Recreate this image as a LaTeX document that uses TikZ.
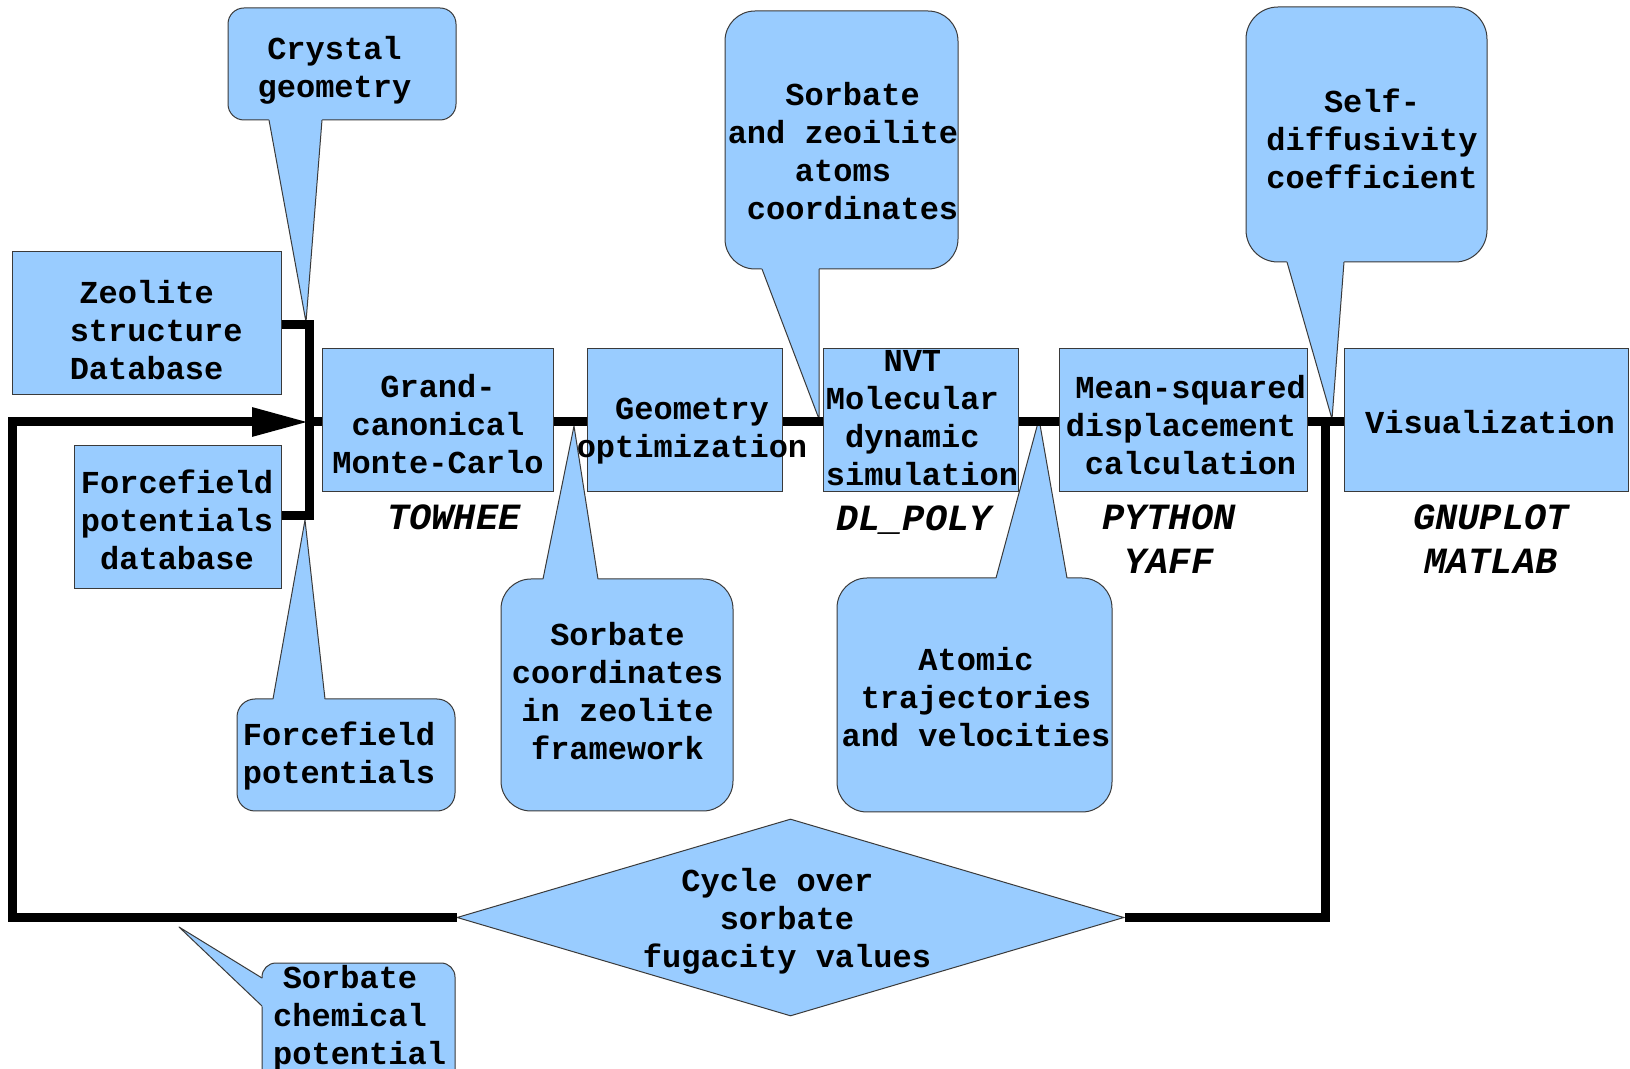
\documentclass[tikz,border=0pt]{standalone}
\usepackage{fontspec}
\setmonofont{Liberation Mono}
\usetikzlibrary{shapes.geometric,arrows.meta,calc}
\definecolor{cblue}{HTML}{99CCFF}
\definecolor{bord}{HTML}{3A3A3A}
\tikzset{
  box/.style={rectangle, draw=bord, fill=cblue, line width=0.5pt, inner sep=0pt},
  txt/.style={font=\ttfamily\bfseries\fontsize{16}{19}\selectfont, align=center, inner sep=0pt},
  lbl/.style={font=\ttfamily\bfseries\itshape\fontsize{18.5}{22}\selectfont, align=center, inner sep=0pt},
  flow/.style={line width=4.5pt, line join=miter, draw=black},
  cbox/.style={draw=bord, fill=cblue, line width=0.5pt},
  cside/.style={draw=bord, line width=0.5pt, line join=round},
  tipA/.style={-{Triangle[length=28.5pt,width=13.5pt]}}
}
\begin{document}
\begin{tikzpicture}[x=0.5pt,y=-0.5pt]
\useasboundingbox (0,0) rectangle (1630,1069);
\fill[white] (0,0) rectangle (1630,1069);

% ---------- callouts (drawn first) ----------
% Crystal geometry
\coordinate (c1a) at (269,120); \coordinate (c1b) at (322,120); \coordinate (c1t) at (306,322);
\filldraw[cbox, rounded corners=8pt] (228,8) rectangle (456,120);
\fill[cblue] ($(c1t)!1.06!(c1a)$) -- (c1t) -- ($(c1t)!1.06!(c1b)$) -- cycle;
\draw[cside] (c1a) -- (c1t) -- (c1b);
\node[txt] (crys) at (334.5,70) {Crystal\\geometry};

% Forcefield potentials
\coordinate (c2a) at (273,699); \coordinate (c2b) at (325,699); \coordinate (c2t) at (305,520);
\filldraw[cbox, rounded corners=9pt] (237,699) rectangle (455,811);
\fill[cblue] ($(c2t)!1.06!(c2a)$) -- (c2t) -- ($(c2t)!1.06!(c2b)$) -- cycle;
\draw[cside] (c2a) -- (c2t) -- (c2b);
\node[txt] (ffpot) at (339,756) {Forcefield\\potentials};

% Sorbate coordinates in zeolite framework
\coordinate (c3a) at (543,579); \coordinate (c3b) at (598,579); \coordinate (c3t) at (574,426);
\filldraw[cbox, rounded corners=15pt] (501,579) rectangle (733,811);
\fill[cblue] ($(c3t)!1.06!(c3a)$) -- (c3t) -- ($(c3t)!1.06!(c3b)$) -- cycle;
\draw[cside] (c3a) -- (c3t) -- (c3b);
\node[txt] (sorbc) at (617.5,691.5) {Sorbate\\coordinates\\in zeolite\\framework};

% Sorbate and zeoilite atoms coordinates
\coordinate (c4a) at (762,269); \coordinate (c4b) at (819,269); \coordinate (c4t) at (819,419);
\filldraw[cbox, rounded corners=15pt] (725,11) rectangle (958,269);
\fill[cblue] ($(c4t)!1.06!(c4a)$) -- (c4t) -- ($(c4t)!1.06!(c4b)$) -- cycle;
\draw[cside] (c4a) -- (c4t) -- (c4b);
\node[txt] (sorbz) at (843,151) {\hphantom{x}Sorbate\\and zeoilite\\atoms\\\hphantom{x}coordinates};

% Atomic trajectories and velocities
\coordinate (c5a) at (996,578); \coordinate (c5b) at (1067,578); \coordinate (c5t) at (1039,419);
\filldraw[cbox, rounded corners=15pt] (837,578) rectangle (1112,812);
\fill[cblue] ($(c5t)!1.06!(c5a)$) -- (c5t) -- ($(c5t)!1.06!(c5b)$) -- cycle;
\draw[cside] (c5a) -- (c5t) -- (c5b);
\node[txt] (atom) at (976,697) {Atomic\\trajectories\\and velocities};

% Self-diffusivity coefficient
\coordinate (c6a) at (1287,262); \coordinate (c6b) at (1344,262); \coordinate (c6t) at (1332,419);
\filldraw[cbox, rounded corners=16pt] (1246,7) rectangle (1487,262);
\fill[cblue] ($(c6t)!1.06!(c6a)$) -- (c6t) -- ($(c6t)!1.06!(c6b)$) -- cycle;
\draw[cside] (c6a) -- (c6t) -- (c6b);
\node[txt] (selfd) at (1372,139) {Self-\\diffusivity\\coefficient};

% Sorbate chemical potential
\coordinate (c7a) at (262,978); \coordinate (c7b) at (262,1006); \coordinate (c7t) at (179,927);
\filldraw[cbox, rounded corners=7pt] (262,963) rectangle (455,1095);
\fill[cblue] ($(c7t)!1.08!(c7a)$) -- (c7t) -- ($(c7t)!1.08!(c7b)$) -- cycle;
\draw[cside] (c7a) -- (c7t) -- (c7b);
\node[txt] (chem) at (359.6,1018.5) {Sorbate\hphantom{x}\\chemical\hphantom{x}\\potential};

% ---------- process boxes ----------
\node[box, minimum width=134.5pt, minimum height=71.5pt] (zeo)  at (146.5,323.5) {};
\node[box, minimum width=103.5pt, minimum height=71.5pt] (ffdb) at (177.5,517.5) {};
\node[box, minimum width=115.5pt, minimum height=71.5pt] (gcmc) at (437.5,420.5) {};
\node[box, minimum width=97.5pt,  minimum height=71.5pt] (geo)  at (684.5,420.5) {};
\node[box, minimum width=97.5pt,  minimum height=71.5pt] (nvt)  at (920.5,420.5) {};
\node[box, minimum width=124pt,   minimum height=71.5pt] (msd)  at (1183,420.5) {};
\node[box, minimum width=142pt,   minimum height=71.5pt] (vis)  at (1486,420.5) {};
\node[diamond, draw=bord, fill=cblue, line width=0.5pt, inner sep=0pt,
      minimum width=333.5pt, minimum height=98.5pt] (cyc) at (790.5,917.5) {};

% box texts
\node[txt] (zeot)  at (146.6,330.5) {Zeolite\\\hphantom{x}structure\\Database};
\node[txt] (ffdbt) at (177,520) {Forcefield\\potentials\\database};
\node[txt] (gcmct) at (438,424) {Grand-\\canonical\\Monte-Carlo};
\node[txt] (geot)  at (692,431) {Geometry\\optimization};
\node[txt] (nvtt)  at (922,418) {NVT\hphantom{x}\\Molecular\hphantom{x}\\dynamic\hphantom{x}\\simulation};
\node[txt] (msdt)  at (1181,425.5) {\hphantom{x}Mean-squared\\displacement\\\hphantom{x}calculation};
\node[txt] (vist)  at (1490,422) {Visualization};
\node[txt] (cyct)  at (787,921) {Cycle over\hphantom{x}\\sorbate\\fugacity values};

% software labels
\node[lbl] (towhee) at (454,517) {TOWHEE};
\node[lbl] (dlpoly) at (914,520) {DL\_POLY};
\node[lbl] (python) at (1169,539) {PYTHON\\YAFF};
\node[lbl] (gnuplot) at (1491,539) {GNUPLOT\\MATLAB};

% ---------- connectors ----------
\coordinate (jt) at (309,325);
\coordinate (jb) at (309,516);
\coordinate (jm) at (309,422);
\coordinate (rl) at (12.5,917.5);
\coordinate (rt) at (12.5,422);
\coordinate (rr) at (1325,422);
\coordinate (rb) at (1325,917.5);

\draw[flow] (zeo.east |- jt) -- (jt) -- (jb) -- (ffdb.east |- jb);
\draw[flow] (jm) -- (gcmc.west |- jm);
\draw[flow] (gcmc.east |- jm) -- (geo.west |- jm);
\draw[flow] (geo.east |- jm) -- (nvt.west |- jm);
\draw[flow] (nvt.east |- jm) -- (msd.west |- jm);
\draw[flow] (msd.east |- jm) -- (vis.west |- jm);
\draw[flow] (rr) -- (rb) -- (cyc.east);
\draw[flow, tipA] (cyc.west) -- (rl) -- (rt) -- (jm);
\end{tikzpicture}
\end{document}
